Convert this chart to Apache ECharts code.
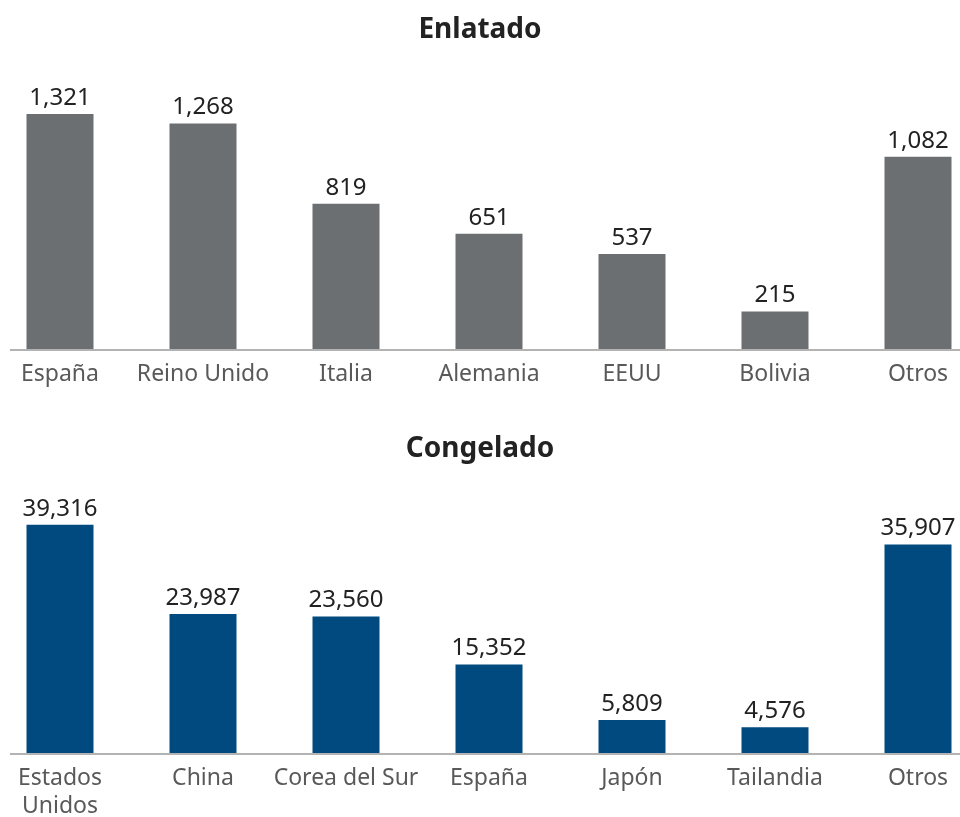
<!DOCTYPE html>
<html>
<head>
<meta charset="utf-8">
<script src="https://cdn.jsdelivr.net/npm/echarts@6/dist/echarts.min.js"></script>
<style>
  html, body { margin: 0; padding: 0; background: #fff; }
  #main { width: 960px; height: 817px; }
</style>
</head>
<body>
<div id="main"></div>
<script>
// datos
var catEnlatado = ['España', 'Reino Unido', 'Italia', 'Alemania', 'EEUU', 'Bolivia', 'Otros'];
var valEnlatado = [1321, 1268, 819, 651, 537, 215, 1082];
var catCongelado = ['Estados\nUnidos', 'China', 'Corea del Sur', 'España', 'Japón', 'Tailandia', 'Otros'];
var valCongelado = [39316, 23987, 23560, 15352, 5809, 4576, 35907];

var chart = echarts.init(document.getElementById('main'), null, { renderer: 'canvas' });

var fontFam = '"Noto Sans", "Open Sans", sans-serif';

function fmt(p) {
  return p.value.toLocaleString('en-US');
}

function xAx(idx, data) {
  return {
    type: 'category',
    gridIndex: idx,
    data: data,
    boundaryGap: false,
    axisLine: { show: false },
    axisTick: { show: false },
    axisLabel: {
      interval: 0,
      margin: 10,
      color: '#595959',
      fontSize: 23,
      lineHeight: 28,
      fontFamily: fontFam
    }
  };
}

function yAx(idx, max) {
  return {
    type: 'value',
    gridIndex: idx,
    min: 0,
    max: max,
    show: false,
    splitLine: { show: false }
  };
}

function barSeries(idx, data, color) {
  return {
    type: 'bar',
    xAxisIndex: idx,
    yAxisIndex: idx,
    data: data,
    barWidth: 67,
    clip: false,
    itemStyle: { color: color },
    label: {
      show: true,
      position: 'top',
      distance: 4,
      color: '#222',
      fontSize: 24,
      fontFamily: fontFam,
      formatter: fmt
    }
  };
}

var option = {
  animation: false,
  title: [
    {
      text: 'Enlatado',
      left: 'center',
      top: 11,
      textStyle: { fontSize: 28, fontWeight: 'bold', color: '#222', fontFamily: fontFam }
    },
    {
      text: 'Congelado',
      left: 'center',
      top: 430,
      textStyle: { fontSize: 28, fontWeight: 'bold', color: '#222', fontFamily: fontFam }
    }
  ],
  grid: [
    { left: 60, right: 42, top: 100, height: 250, outerBoundsMode: 'none' },
    { left: 60, right: 42, top: 509, height: 245, outerBoundsMode: 'none' }
  ],
  xAxis: [xAx(0, catEnlatado), xAx(1, catCongelado)],
  yAxis: [yAx(0, 1400), yAx(1, 42000)],
  series: [
    barSeries(0, valEnlatado, '#6b6f72'),
    barSeries(1, valCongelado, '#004a7f')
  ],
  graphic: [
    { type: 'line', shape: { x1: 10, y1: 350, x2: 960, y2: 350 }, style: { stroke: '#b3b3b3', lineWidth: 2 }, z: 10 },
    { type: 'line', shape: { x1: 10, y1: 754, x2: 960, y2: 754 }, style: { stroke: '#b3b3b3', lineWidth: 2 }, z: 10 }
  ]
};

chart.setOption(option);
</script>
</body>
</html>
